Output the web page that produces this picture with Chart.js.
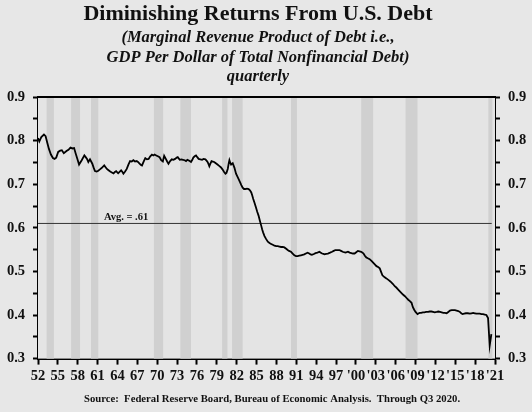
<!DOCTYPE html>
<html>
<head>
<meta charset="utf-8">
<script src="https://cdn.jsdelivr.net/npm/chart.js@4.4.1/dist/chart.umd.min.js"></script>
<style>
  html, body { margin: 0; padding: 0; background: #e7e7e7; }
  canvas { display: block; }
</style>
</head>
<body>
<canvas id="chart" width="532" height="412"></canvas>
<script>
// data (quarterly, year as decimal)
const years = [
  1952.0, 1952.2, 1952.5, 1952.9, 1953.15, 1953.4, 1953.65, 1953.95, 1954.25, 1954.5,
  1954.75, 1955.05, 1955.35, 1955.6, 1955.9, 1956.3, 1956.6, 1956.9, 1957.2, 1957.45,
  1957.7, 1957.9, 1958.2, 1958.6, 1959.0, 1959.2, 1959.4, 1959.6, 1959.85, 1960.2,
  1960.4, 1960.6, 1960.85, 1961.1, 1961.35, 1961.6, 1962.0, 1962.4, 1962.65, 1962.9,
  1963.15, 1963.4, 1963.6, 1963.8, 1964.1, 1964.35, 1964.55, 1964.75, 1964.9, 1965.15,
  1965.4, 1965.65, 1965.9, 1966.15, 1966.4, 1966.65, 1966.9, 1967.1, 1967.3, 1967.55,
  1967.7, 1967.95, 1968.2, 1968.45, 1968.7, 1968.95, 1969.2, 1969.4, 1969.6, 1969.85,
  1970.1, 1970.35, 1970.6, 1970.85, 1971.05, 1971.3, 1971.5, 1971.7, 1971.95, 1972.2,
  1972.45, 1972.7, 1972.95, 1973.1, 1973.4, 1973.65, 1973.9, 1974.15, 1974.35, 1974.55,
  1974.7, 1974.9, 1975.1, 1975.3, 1975.45, 1975.65, 1975.86, 1976.05, 1976.25, 1976.5,
  1976.77, 1977.0, 1977.27, 1977.45, 1977.6, 1977.75, 1977.87, 1978.05, 1978.2, 1978.4,
  1978.6, 1978.85, 1979.1, 1979.35, 1979.6, 1979.85, 1980.1, 1980.3, 1980.45, 1980.65,
  1980.8, 1980.9, 1981.05, 1981.15, 1981.4, 1981.65, 1981.9, 1982.15, 1982.5, 1982.7,
  1982.9, 1983.1, 1983.3, 1983.55, 1983.8, 1984.0, 1984.2, 1984.35, 1984.5, 1984.7,
  1984.9, 1985.1, 1985.3, 1985.5, 1985.7, 1985.85, 1986.0, 1986.2, 1986.45, 1986.7,
  1986.95, 1987.2, 1987.45, 1987.7, 1987.96, 1988.2, 1988.46, 1988.7, 1988.96, 1989.2,
  1989.47, 1989.7, 1989.9, 1990.2, 1990.45, 1990.7, 1990.95, 1991.2, 1991.45, 1991.7,
  1991.95, 1992.2, 1992.45, 1992.7, 1992.95, 1993.15, 1993.35, 1993.65, 1993.9, 1994.2,
  1994.5, 1994.7, 1994.9, 1995.1, 1995.27, 1995.5, 1995.77, 1996.1, 1996.4, 1996.65,
  1996.9, 1997.2, 1997.5, 1997.75, 1998.0, 1998.2, 1998.45, 1998.8, 1999.05, 1999.3,
  1999.55, 1999.8, 2000.05, 2000.3, 2000.55, 2000.8, 2001.0, 2001.15, 2001.35, 2001.57,
  2001.8, 2002.07, 2002.35, 2002.6, 2002.85, 2003.1, 2003.35, 2003.6, 2003.8, 2004.0,
  2004.3, 2004.6, 2004.95, 2005.2, 2005.6, 2005.86, 2006.1, 2006.35, 2006.6, 2006.85,
  2007.1, 2007.4, 2007.65, 2007.9, 2008.15, 2008.4, 2008.6, 2008.8, 2009.0, 2009.3,
  2009.5, 2009.64, 2009.85, 2010.1, 2010.35, 2010.6, 2010.9, 2011.15, 2011.4, 2011.65,
  2011.9, 2012.2, 2012.45, 2012.7, 2012.95, 2013.2, 2013.45, 2013.7, 2013.95, 2014.2,
  2014.45, 2014.7, 2014.95, 2015.2, 2015.45, 2015.7, 2015.9, 2016.1, 2016.35, 2016.6,
  2016.9, 2017.2, 2017.45, 2017.7, 2017.95, 2018.2, 2018.45, 2018.7, 2018.95, 2019.2,
  2019.45, 2019.7, 2019.95, 2020.2, 2020.45
];
const gdpPerDebt = [
  0.806, 0.798, 0.808, 0.814, 0.810, 0.795, 0.781, 0.768, 0.760, 0.758,
  0.761, 0.774, 0.777, 0.778, 0.771, 0.776, 0.779, 0.784, 0.782, 0.783,
  0.770, 0.760, 0.745, 0.755, 0.766, 0.762, 0.758, 0.751, 0.757, 0.747,
  0.738, 0.730, 0.729, 0.731, 0.734, 0.737, 0.743, 0.735, 0.732, 0.729,
  0.727, 0.725, 0.728, 0.730, 0.725, 0.729, 0.732, 0.728, 0.724, 0.729,
  0.735, 0.745, 0.753, 0.752, 0.755, 0.752, 0.753, 0.751, 0.748, 0.744,
  0.743, 0.752, 0.760, 0.757, 0.758, 0.764, 0.768, 0.766, 0.768, 0.766,
  0.764, 0.762, 0.755, 0.752, 0.765, 0.758, 0.752, 0.747, 0.753, 0.757,
  0.756, 0.758, 0.761, 0.762, 0.756, 0.757, 0.756, 0.755, 0.753, 0.756,
  0.755, 0.753, 0.751, 0.756, 0.761, 0.764, 0.766, 0.762, 0.758, 0.757,
  0.756, 0.758, 0.757, 0.754, 0.751, 0.746, 0.741, 0.748, 0.753, 0.752,
  0.751, 0.748, 0.745, 0.742, 0.739, 0.734, 0.728, 0.724, 0.726, 0.735,
  0.748, 0.755, 0.748, 0.745, 0.748, 0.738, 0.724, 0.716, 0.705, 0.698,
  0.692, 0.689, 0.689, 0.690, 0.689, 0.686, 0.681, 0.674, 0.666, 0.657,
  0.647, 0.637, 0.628, 0.616, 0.605, 0.596, 0.589, 0.581, 0.574, 0.568,
  0.565, 0.563, 0.561, 0.559, 0.558, 0.558, 0.557, 0.556, 0.556, 0.555,
  0.552, 0.549, 0.547, 0.545, 0.541, 0.537, 0.535, 0.535, 0.536, 0.537,
  0.538, 0.539, 0.541, 0.543, 0.541, 0.539, 0.538, 0.540, 0.542, 0.543,
  0.545, 0.543, 0.541, 0.540, 0.539, 0.540, 0.541, 0.543, 0.545, 0.547,
  0.549, 0.549, 0.549, 0.547, 0.545, 0.544, 0.543, 0.545, 0.543, 0.542,
  0.541, 0.541, 0.544, 0.547, 0.546, 0.545, 0.543, 0.541, 0.536, 0.532,
  0.530, 0.528, 0.524, 0.520, 0.516, 0.512, 0.510, 0.507, 0.499, 0.491,
  0.487, 0.484, 0.480, 0.477, 0.471, 0.466, 0.463, 0.459, 0.455, 0.451,
  0.447, 0.443, 0.439, 0.435, 0.432, 0.428, 0.418, 0.412, 0.407, 0.402,
  0.404, 0.405, 0.405, 0.406, 0.406, 0.407, 0.407, 0.408, 0.408, 0.407,
  0.406, 0.407, 0.408, 0.407, 0.406, 0.405, 0.405, 0.404, 0.407, 0.410,
  0.411, 0.411, 0.411, 0.410, 0.409, 0.407, 0.404, 0.402, 0.403, 0.404,
  0.404, 0.403, 0.404, 0.405, 0.404, 0.403, 0.403, 0.403, 0.402, 0.402,
  0.401, 0.400, 0.393, 0.330, 0.356
];
const avgValue = 0.61;
const avgSpan = [1952, 2020.5];

// recessions (shaded bands)
const recStarts = [1953.3, 1957.0, 1960.0, 1969.5, 1973.5, 1979.8, 1981.3, 1990.2, 2000.8, 2007.5, 2020.0];
const recEnds   = [1954.4, 1958.35, 1961.1, 1970.9, 1975.1, 1980.6, 1982.9, 1991.1, 2002.6, 2009.3, 2020.6];

const xTickYears  = [1952, 1955, 1958, 1961, 1964, 1967, 1970, 1973, 1976, 1979, 1982, 1985, 1988,
                     1991, 1994, 1997, 2000, 2003, 2006, 2009, 2012, 2015, 2018, 2021];
const xTickLabels = ['52', '55', '58', '61', '64', '67', '70', '73', '76', '79', '82', '85', '88',
                     '91', '94', '97', "'00", "'03", "'06", "'09", "'12", "'15", "'18", "'21"];
const yTickValues = [0.3, 0.35, 0.4, 0.45, 0.5, 0.55, 0.6, 0.65, 0.7, 0.75, 0.8, 0.85, 0.9];
const yTickLabels = ['0.3', '', '0.4', '', '0.5', '', '0.6', '', '0.7', '', '0.8', '', '0.9'];

const SERIF = '"Liberation Serif", "Times New Roman", serif';

const backdrop = {
  id: 'backdrop',
  beforeDatasetsDraw(chart) {
    const { ctx, chartArea: a, scales: { x } } = chart;
    ctx.save();
    ctx.fillStyle = '#e4e4e4';
    ctx.fillRect(a.left, a.top, a.right - a.left, a.bottom - a.top);
    ctx.fillStyle = '#d0d0d0';
    recStarts.forEach((s, i) => {
      const x0 = x.getPixelForValue(s);
      const x1 = x.getPixelForValue(recEnds[i]);
      ctx.fillRect(x0, a.top, x1 - x0, a.bottom - a.top);
    });
    ctx.restore();
  },
  afterDraw(chart) {
    const { ctx, chartArea: a, scales: { x, y } } = chart;
    ctx.save();
    // top frame line
    ctx.strokeStyle = '#000';
    ctx.lineWidth = 2;
    ctx.beginPath();
    ctx.moveTo(a.left, a.top);
    ctx.lineTo(a.right, a.top);
    ctx.stroke();

    ctx.fillStyle = '#111';
    ctx.textAlign = 'center';
    ctx.textBaseline = 'middle';
    ctx.font = 'bold 10.5px ' + SERIF;
    ctx.fillText('Avg. = .61', x.getPixelForValue(1965.3), y.getPixelForValue(avgValue) - 6);

    ctx.font = 'bold 22px ' + SERIF;
    ctx.fillText('Diminishing Returns From U.S. Debt', 258, 14);
    ctx.font = 'italic bold 16.5px ' + SERIF;
    ctx.fillText('(Marginal Revenue Product of Debt i.e.,', 258, 38);
    ctx.fillText('GDP Per Dollar of Total Nonfinancial Debt)', 258, 58);
    ctx.fillText('quarterly', 258, 77);

    ctx.font = 'bold 10.7px ' + SERIF;
    ctx.fillText('Source:  Federal Reserve Board, Bureau of Economic Analysis.  Through Q3 2020.', 272, 399);
    ctx.restore();
  }
};

const yAxis = (pos, width) => ({
  position: pos,
  min: 0.3,
  max: 0.9,
  afterBuildTicks: axis => { axis.ticks = yTickValues.map(v => ({ value: v })); },
  afterFit: axis => { axis.width = width; },
  ticks: {
    color: '#111',
    font: { family: SERIF, size: 14.5, weight: 'bold' },
    padding: 8,
    callback: v => yTickLabels[yTickValues.findIndex(t => Math.abs(t - v) < 1e-6)]
  },
  grid: { drawOnChartArea: false, drawTicks: true, tickLength: 5, tickColor: '#000', tickWidth: 2 },
  border: { display: true, color: '#000', width: 2 }
});

new Chart(document.getElementById('chart'), {
  type: 'line',
  data: {
    datasets: [
      {
        label: 'GDP per dollar of debt',
        data: years.map((yr, i) => ({ x: yr, y: gdpPerDebt[i] })),
        borderColor: '#000',
        borderWidth: 1.8,
        pointRadius: 0,
        tension: 0,
        yAxisID: 'y'
      },
      {
        label: 'Average',
        data: avgSpan.map(yr => ({ x: yr, y: avgValue })),
        borderColor: '#333',
        borderWidth: 1,
        pointRadius: 0,
        yAxisID: 'y'
      }
    ]
  },
  options: {
    responsive: false,
    animation: false,
    layout: { padding: { top: 97, bottom: 24, left: 0, right: 0 } },
    plugins: {
      legend: { display: false },
      tooltip: { enabled: false }
    },
    scales: {
      x: {
        type: 'linear',
        min: 1952,
        max: 2021,
        afterBuildTicks: axis => { axis.ticks = xTickYears.map(v => ({ value: v })); },
        ticks: {
          color: '#111',
          font: { family: SERIF, size: 14.5, weight: 'bold' },
          padding: 3,
          maxRotation: 0,
          autoSkip: false,
          callback: v => xTickLabels[xTickYears.indexOf(v)]
        },
        grid: { drawOnChartArea: false, drawTicks: true, tickLength: 6, tickColor: '#000', tickWidth: 2 },
        border: { display: true, color: '#000', width: 2 }
      },
      y: yAxis('left', 38),
      y2: yAxis('right', 37)
    }
  },
  plugins: [backdrop]
});
</script>
</body>
</html>
